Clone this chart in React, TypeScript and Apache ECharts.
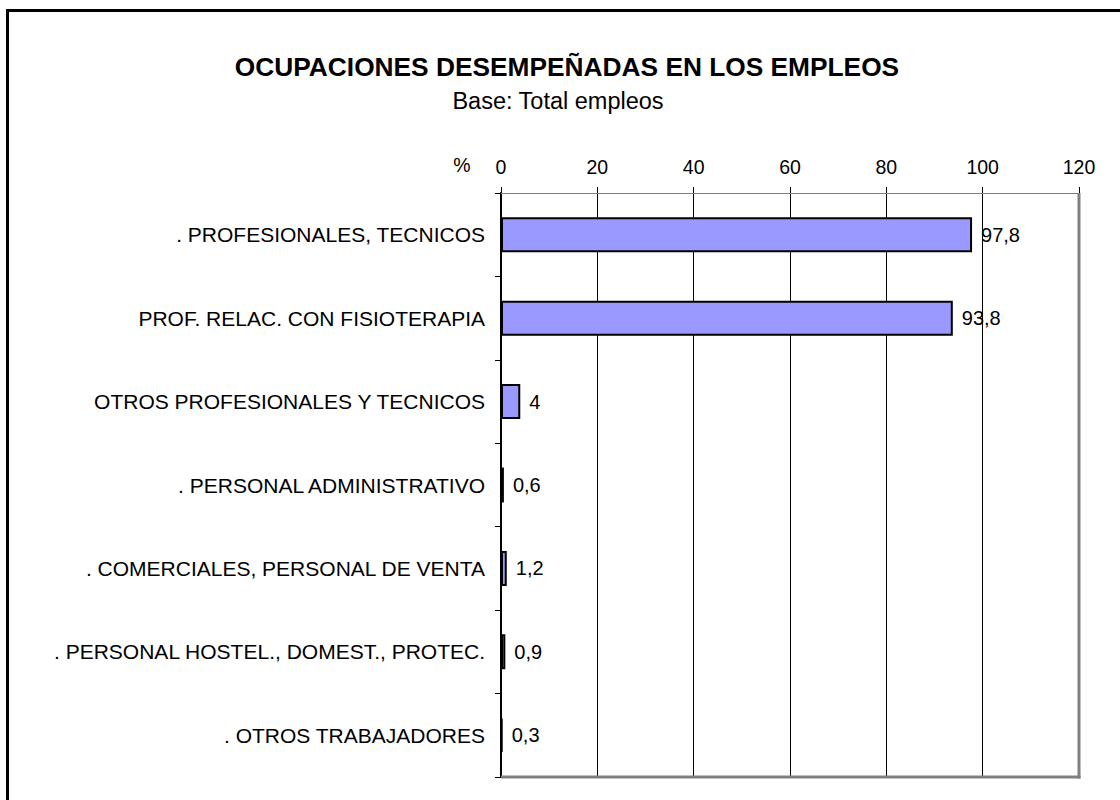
import React, { useEffect, useRef } from "react";
import * as echarts from "echarts";

const categories = [
  ". PROFESIONALES, TECNICOS",
  "PROF. RELAC. CON FISIOTERAPIA",
  "OTROS PROFESIONALES Y TECNICOS",
  ". PERSONAL ADMINISTRATIVO",
  ". COMERCIALES, PERSONAL DE VENTA",
  ". PERSONAL HOSTEL., DOMEST., PROTEC.",
  ". OTROS TRABAJADORES",
];
const values = [97.8, 93.8, 4, 0.6, 1.2, 0.9, 0.3];
const titleText = "OCUPACIONES DESEMPEÑADAS EN LOS EMPLEOS";
const subtitleText = "Base: Total empleos";
const axisUnit = "%";

const W = 1120;
const H = 800;
const G = { left: 501, right: 41, top: 193, bottom: 23 };
const FONT = "'Liberation Sans', Arial, sans-serif";

export default function App() {
  const ref = useRef<HTMLDivElement>(null);
  useEffect(() => {
    if (!ref.current) return;
    const chart = echarts.init(ref.current, undefined, { renderer: "svg" });
    const gx2 = W - G.right;
    const gy2 = H - G.bottom;
    chart.setOption({
      animation: false,
      backgroundColor: "#fff",
      textStyle: { fontFamily: FONT },
      grid: { left: G.left, right: G.right, top: G.top, bottom: G.bottom, containLabel: false },
      xAxis: {
        type: "value",
        position: "top",
        min: 0,
        max: 120,
        interval: 20,
        axisLine: { show: true, lineStyle: { color: "#808080", width: 1 } },
        axisTick: { show: true, inside: false, length: 6, lineStyle: { color: "#000", width: 1 } },
        axisLabel: { color: "#000", fontSize: 19.5, margin: 16, fontFamily: FONT },
        splitLine: { show: true, lineStyle: { color: "#000", width: 1 } },
      },
      yAxis: {
        type: "category",
        inverse: true,
        data: categories,
        axisLine: { show: true, lineStyle: { color: "#000", width: 2 } },
        axisTick: { show: true, inside: false, length: 6, lineStyle: { color: "#000", width: 1 } },
        axisLabel: { color: "#000", fontSize: 21, margin: 16, fontFamily: FONT },
        splitLine: { show: false },
      },
      series: [
        {
          type: "bar",
          data: values,
          barWidth: 35,
          itemStyle: { color: "#9999FF", borderColor: "#000", borderWidth: 2 },
          label: {
            show: true,
            position: "right",
            distance: 9,
            color: "#000",
            fontSize: 20,
            fontFamily: FONT,
            formatter: (p: any) => String(p.value).replace(".", ","),
          },
        },
      ],
      graphic: [
        {
          type: "rect",
          shape: { x: 7.5, y: 10.5, width: 1300, height: 1000 },
          style: { fill: "none", stroke: "#000", lineWidth: 3 },
          silent: true,
        },
        {
          type: "line",
          shape: { x1: gx2, y1: G.top, x2: gx2, y2: gy2 + 1.5 },
          style: { stroke: "#808080", lineWidth: 3 },
          z: 10,
        },
        {
          type: "line",
          shape: { x1: G.left, y1: gy2, x2: gx2 + 1.5, y2: gy2 },
          style: { stroke: "#808080", lineWidth: 3 },
          z: 10,
        },
        {
          type: "text",
          x: 567,
          y: 67,
          style: {
            text: titleText,
            font: `bold 26.3px ${FONT}`,
            fill: "#000",
            textAlign: "center",
            textVerticalAlign: "middle",
          },
        },
        {
          type: "text",
          x: 558,
          y: 101,
          style: {
            text: subtitleText,
            font: `23.5px ${FONT}`,
            fill: "#000",
            textAlign: "center",
            textVerticalAlign: "middle",
          },
        },
        {
          type: "text",
          x: 462,
          y: 165,
          style: {
            text: axisUnit,
            font: `19.5px ${FONT}`,
            fill: "#000",
            textAlign: "center",
            textVerticalAlign: "middle",
          },
        },
      ],
    });
    return () => chart.dispose();
  }, []);
  return (
    <div
      ref={ref}
      style={{ position: "fixed", left: 0, top: 0, width: W, height: H, background: "#fff" }}
    />
  );
}
